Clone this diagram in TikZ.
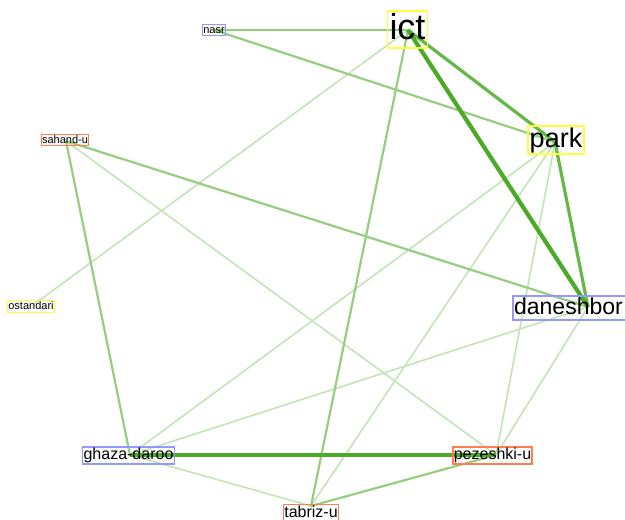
\documentclass[tikz,border=0pt]{standalone}
\usepackage{fontspec}
\setmainfont{Liberation Sans}
\definecolor{eA}{RGB}{76,170,40}
\definecolor{eB}{RGB}{100,184,70}
\definecolor{eC}{RGB}{150,206,128}
\definecolor{eD}{RGB}{196,228,183}
\definecolor{bY}{RGB}{255,255,60}
\definecolor{bB}{RGB}{150,150,255}
\definecolor{bO}{RGB}{255,125,80}
\begin{document}
\begin{tikzpicture}[x=1pt,y=-1pt,
  lbl/.style={draw=#1,line width=1.5pt,inner ysep=0pt},
  fs/.style={font=\fontsize{#1}{#1}\selectfont,text height={0.8*#1pt},text depth={0.24*#1pt},inner xsep={0.06*#1pt}},
  wA/.style={draw=eA,line width=4.2pt},
  wB/.style={draw=eB,line width=3.2pt},
  wC/.style={draw=eC,line width=2.2pt},
  wD/.style={draw=eD,line width=1.6pt}]
\useasboundingbox (0,0) rectangle (625,520);
% edge points
\coordinate (ict) at (408,30);
\coordinate (park) at (555,142);
\coordinate (dan) at (588,307);
\coordinate (nasr) at (214,30);
\coordinate (sah) at (66,141);
\coordinate (ost) at (33,305);
\coordinate (gha) at (130,455);
\coordinate (pez) at (496,455);
\coordinate (tab) at (311,506);
% edges
\draw[wD] (ict) -- (ost);
\draw[wD] (sah) -- (pez);
\draw[wD] (park) -- (gha);
\draw[wD] (park) -- (tab);
\draw[wD] (park) -- (pez);
\draw[wD] (dan) -- (gha);
\draw[wD] (dan) -- (pez);
\draw[wD] (gha) -- (tab);
\draw[wC] (nasr) -- (ict);
\draw[wC] (nasr) -- (park);
\draw[wC] (sah) -- (dan);
\draw[wC] (sah) -- (gha);
\draw[wC] (ict) -- (tab);
\draw[wC] (pez) -- (tab);
\draw[wB] (ict) -- (park);
\draw[wB] (park) -- (dan);
\draw[wA] (ict) -- (dan);
\draw[wA] (gha) -- (pez);
% labels
\node[lbl=bY,fs=36] (Lict) at (407.5,29.5) {ict};
\node[lbl=bY,fs=27] (Lpark) at (556,140) {park};
\node[lbl=bB,fs=23,anchor=west,text width=150pt,align=left] (Ldan) at (512,308) {daneshbor};
\node[lbl=bB,fs=11,line width=1.2pt] (Lnasr) at (214,30) {nasr};
\node[lbl=bO,fs=11,line width=1.2pt] (Lsah) at (65,140) {sahand-u};
\node[lbl=bY,fs=11,line width=1.2pt] (Lost) at (31,306.5) {ostandari};
\node[lbl=bB,fs=16] (Lgha) at (128.5,455.5) {ghaza-daroo};
\node[lbl=bO,fs=16] (Lpez) at (492.5,455.5) {pezeshki-u};
\node[lbl=bO,fs=16] (Ltab) at (311,513) {tabriz-u};
\end{tikzpicture}
\end{document}
